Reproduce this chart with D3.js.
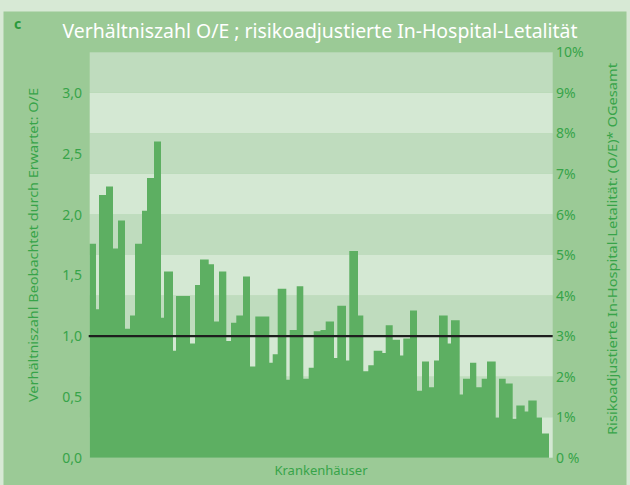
<!DOCTYPE html>
<html>
<head>
<meta charset="utf-8">
<script src="https://cdn.jsdelivr.net/npm/d3@7"></script>
<style>
  html, body { margin: 0; padding: 0; background: #d7e9d5; }
  svg { display: block; }
</style>
</head>
<body>
<div id="chart"></div>
<script>
// O/E per hospital (left axis), in the order shown
const oeValues = [
  1.76, 1.22, 2.16, 2.23, 1.72, 1.95, 1.06, 1.17, 1.76, 2.03,
  2.30, 2.60, 1.15, 1.53, 0.88, 1.33, 0.94, 1.42, 1.63, 1.59,
  1.12, 1.53, 0.96, 1.11, 1.17, 1.49, 0.75, 1.16, 0.78, 0.85,
  1.39, 0.64, 1.05, 1.41, 0.65, 0.74, 1.04, 1.05, 1.12, 0.82,
  1.25, 0.80, 1.70, 1.17, 0.71, 0.76, 0.88, 0.86, 1.09, 0.97,
  0.84, 0.98, 1.21, 0.55, 0.79, 0.58, 0.80, 1.17, 0.94, 1.13,
  0.52, 0.65, 0.78, 0.58, 0.65, 0.79, 0.33, 0.65, 0.61, 0.32,
  0.43, 0.38, 0.47, 0.33, 0.20
];

// relative hospital size (bar width share)
const hospitalWeights = [
  6.3, 3.0, 7.0, 7.0, 5.0, 7.0, 5.0, 5.0, 7.0, 5.0,
  7.0, 7.0, 3.0, 9.0, 3.0, 14.0, 5.0, 5.0, 8.7, 5.3,
  5.0, 7.3, 4.7, 5.3, 6.7, 7.0, 5.3, 14.0, 3.4, 5.0,
  8.6, 3.4, 7.0, 6.6, 5.4, 5.0, 6.8, 5.2, 8.3, 3.3,
  8.7, 3.3, 8.7, 5.3, 5.0, 5.4, 8.6, 3.4, 7.0, 7.3,
  3.3, 6.7, 7.0, 5.0, 7.0, 5.0, 5.0, 8.7, 3.3, 8.7,
  3.3, 7.0, 6.3, 5.4, 5.3, 8.7, 3.3, 6.7, 7.0, 3.6,
  8.4, 3.6, 8.4, 5.3, 7.0
];

const leftTicks = [0, 0.5, 1.0, 1.5, 2.0, 2.5, 3.0];
const leftTickLabels = ['0,0', '0,5', '1,0', '1,5', '2,0', '2,5', '3,0'];
const rightTicks = [0, 1, 2, 3, 4, 5, 6, 7, 8, 9, 10];
const rightTickLabels = ['0 %', '1%', '2%', '3%', '4%', '5%', '6%', '7%', '8%', '9%', '10%'];

const referenceOE = 1.0;   // O/E = 1 (OGesamt = 3 %)
const overallRate = 3;     // percent

const title = 'Verhältniszahl O/E ; risikoadjustierte In-Hospital-Letalität';
const leftTitle = 'Verhältniszahl Beobachtet durch Erwartet: O/E';
const rightTitle = 'Risikoadjustierte In-Hospital-Letalität: (O/E)* OGesamt';
const xTitle = 'Krankenhäuser';

const width = 630;
const height = 485;
const plot = { left: 89.7, right: 552.7, top: 52.3, bottom: 457.7 };

const green = '#37a449';
const barColor = '#5daf62';
const font = "'Noto Sans', 'Open Sans', sans-serif";

const svg = d3.select('#chart')
  .append('svg')
  .attr('width', width)
  .attr('height', height);

// outer pale background + green panel
svg.append('rect')
  .attr('width', width).attr('height', height)
  .attr('fill', '#d7e9d5');
svg.append('rect')
  .attr('x', 3.5).attr('y', 11.5)
  .attr('width', 623).attr('height', height - 11.5)
  .attr('fill', '#9bca96');

// scales
const yPct = d3.scaleLinear()
  .domain([0, 10])
  .range([plot.bottom, plot.top]);

const yOE = d3.scaleLinear()
  .domain([0, 10 / overallRate])
  .range([plot.bottom, plot.top]);

const cum = d3.cumsum(hospitalWeights);
const total = cum[cum.length - 1];
const x = d3.scaleLinear()
  .domain([0, total])
  .range([plot.left, plot.right - 3.7]);

// alternating bands, one per percent
svg.append('g')
  .selectAll('rect')
  .data(d3.range(10))
  .enter()
  .append('rect')
  .attr('x', plot.left)
  .attr('width', plot.right - plot.left)
  .attr('y', d => yPct(d + 1))
  .attr('height', d => yPct(d) - yPct(d + 1))
  .attr('fill', d => d % 2 === 0 ? '#d4e8d3' : '#bfdcbe');

// bars: adjacent hospitals drawn as one stepped area so no seams show
const steps = oeValues.map((v, i) => ({ pos: i === 0 ? 0 : cum[i - 1], v }));
steps.push({ pos: total, v: oeValues[oeValues.length - 1] });

const barArea = d3.area()
  .curve(d3.curveStepAfter)
  .x(d => x(d.pos))
  .y0(yOE(0))
  .y1(d => yOE(d.v));

svg.append('path')
  .datum(steps)
  .attr('class', 'bars')
  .attr('d', barArea)
  .attr('fill', barColor);

// reference line O/E = 1
svg.append('line')
  .attr('x1', plot.left - 1)
  .attr('x2', plot.right)
  .attr('y1', yOE(referenceOE))
  .attr('y2', yOE(referenceOE))
  .attr('stroke', '#1e1e1e')
  .attr('stroke-width', 2.4);

// left axis labels
svg.append('g')
  .selectAll('text')
  .data(leftTicks)
  .enter()
  .append('text')
  .attr('x', 82)
  .attr('y', d => yOE(d))
  .attr('dy', '0.36em')
  .attr('text-anchor', 'end')
  .attr('fill', green)
  .style('font-family', font)
  .style('font-size', '14px')
  .text((d, i) => leftTickLabels[i]);

// right axis labels
svg.append('g')
  .selectAll('text')
  .data(rightTicks)
  .enter()
  .append('text')
  .attr('x', 556)
  .attr('y', d => yPct(d))
  .attr('dy', '0.36em')
  .attr('fill', green)
  .style('font-family', font)
  .style('font-size', '14px')
  .text((d, i) => rightTickLabels[i]);

// titles
svg.append('text')
  .attr('x', 14).attr('y', 29)
  .attr('fill', '#2a9a3c')
  .style('font-family', font)
  .style('font-size', '14px')
  .style('font-weight', 'bold')
  .text('c');

svg.append('text')
  .attr('x', 320).attr('y', 38)
  .attr('text-anchor', 'middle')
  .attr('fill', '#ffffff')
  .attr('textLength', 515)
  .attr('lengthAdjust', 'spacingAndGlyphs')
  .style('font-family', font)
  .style('font-size', '19.5px')
  .text(title);

svg.append('text')
  .attr('transform', 'translate(38,245) rotate(-90)')
  .attr('text-anchor', 'middle')
  .attr('fill', green)
  .attr('textLength', 314)
  .attr('lengthAdjust', 'spacingAndGlyphs')
  .style('font-family', font)
  .style('font-size', '13px')
  .text(leftTitle);

svg.append('text')
  .attr('transform', 'translate(617,249) rotate(-90)')
  .attr('text-anchor', 'middle')
  .attr('fill', green)
  .attr('textLength', 372)
  .attr('lengthAdjust', 'spacingAndGlyphs')
  .style('font-family', font)
  .style('font-size', '13px')
  .text(rightTitle);

svg.append('text')
  .attr('x', 321).attr('y', 475)
  .attr('text-anchor', 'middle')
  .attr('fill', green)
  .style('font-family', font)
  .style('font-size', '13px')
  .text(xTitle);
</script>
</body>
</html>
